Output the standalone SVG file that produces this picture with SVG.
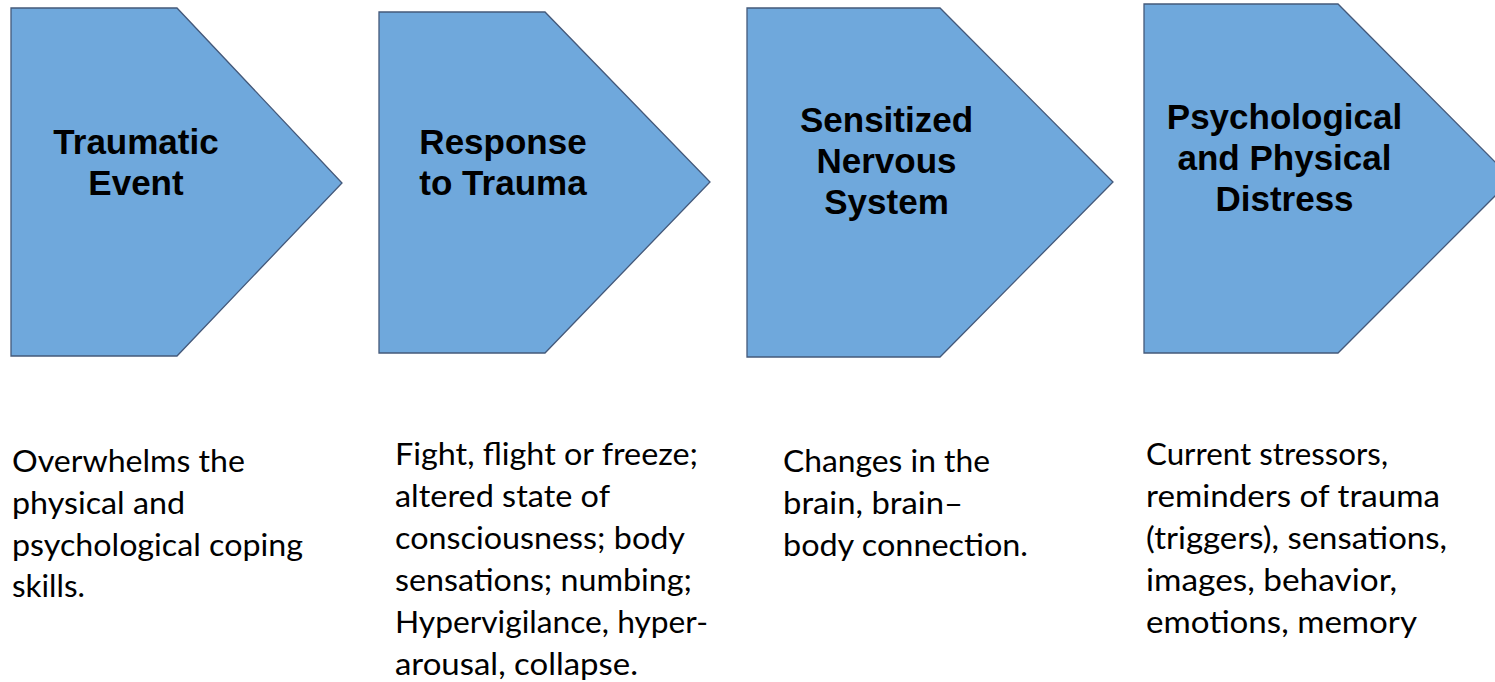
<svg xmlns="http://www.w3.org/2000/svg" width="1495" height="682" viewBox="0 0 1495 682">
<style>
.shape{fill:#6fa8dc;stroke:#44597a;stroke-width:1.3;stroke-linejoin:miter}
.title{font-family:"Liberation Sans",Arial,sans-serif;font-weight:bold;font-size:35px;fill:#000;text-anchor:middle}
.desc{font-family:Lato,"Open Sans",sans-serif;font-size:30.5px;fill:#000}
</style>
<rect width="1495" height="682" fill="#ffffff"/>
<g id="connectors"/>
<g id="node1">
<polygon class="shape" points="11,8 177,8 342,183 177,356 11,356"/>
<text class="title" x="136" y="154">Traumatic</text>
<text class="title" x="136" y="195">Event</text>
</g>
<g id="node2">
<polygon class="shape" points="379,12 545,12 710,182 545,353 379,353"/>
<text class="title" x="503" y="153.5">Response</text>
<text class="title" x="503" y="195">to Trauma</text>
</g>
<g id="node3">
<polygon class="shape" points="747,8 940,8 1113,182 940,357 747,357"/>
<text class="title" x="886.5" y="131.5">Sensitized</text>
<text class="title" x="886.5" y="172.5">Nervous</text>
<text class="title" x="886.5" y="213.5">System</text>
</g>
<g id="node4">
<polygon class="shape" points="1144,4 1338,4 1512,179 1338,353 1144,353"/>
<text class="title" x="1284.5" y="128.5">Psychological</text>
<text class="title" x="1284.5" y="169.5">and Physical</text>
<text class="title" x="1284.5" y="210.5">Distress</text>
</g>
<g id="desc1">
<text class="desc" x="12" y="472" textLength="233" lengthAdjust="spacingAndGlyphs">Overwhelms the</text>
<text class="desc" x="12" y="514" textLength="173" lengthAdjust="spacingAndGlyphs">physical and</text>
<text class="desc" x="12" y="556" textLength="291" lengthAdjust="spacingAndGlyphs">psychological coping</text>
<text class="desc" x="12" y="597" textLength="73" lengthAdjust="spacingAndGlyphs">skills.</text>
</g>
<g id="desc2">
<text class="desc" x="395" y="465" textLength="303" lengthAdjust="spacingAndGlyphs">Fight, flight or freeze;</text>
<text class="desc" x="395" y="507" textLength="215" lengthAdjust="spacingAndGlyphs">altered state of</text>
<text class="desc" x="395" y="549" textLength="290" lengthAdjust="spacingAndGlyphs">consciousness; body</text>
<text class="desc" x="395" y="591" textLength="297" lengthAdjust="spacingAndGlyphs">sensations; numbing;</text>
<text class="desc" x="395" y="633" textLength="313" lengthAdjust="spacingAndGlyphs">Hypervigilance, hyper-</text>
<text class="desc" x="395" y="675" textLength="243" lengthAdjust="spacingAndGlyphs">arousal, collapse.</text>
</g>
<g id="desc3">
<text class="desc" x="783" y="472" textLength="207" lengthAdjust="spacingAndGlyphs">Changes in the</text>
<text class="desc" x="783" y="514" textLength="180" lengthAdjust="spacingAndGlyphs">brain, brain–</text>
<text class="desc" x="783" y="556" textLength="245" lengthAdjust="spacingAndGlyphs">body connection.</text>
</g>
<g id="desc4">
<text class="desc" x="1146" y="465" textLength="242" lengthAdjust="spacingAndGlyphs">Current stressors,</text>
<text class="desc" x="1146" y="507" textLength="294" lengthAdjust="spacingAndGlyphs">reminders of trauma</text>
<text class="desc" x="1146" y="549" textLength="301" lengthAdjust="spacingAndGlyphs">(triggers), sensations,</text>
<text class="desc" x="1146" y="591" textLength="251" lengthAdjust="spacingAndGlyphs">images, behavior,</text>
<text class="desc" x="1146" y="633" textLength="271" lengthAdjust="spacingAndGlyphs">emotions, memory</text>
</g>
</svg>
